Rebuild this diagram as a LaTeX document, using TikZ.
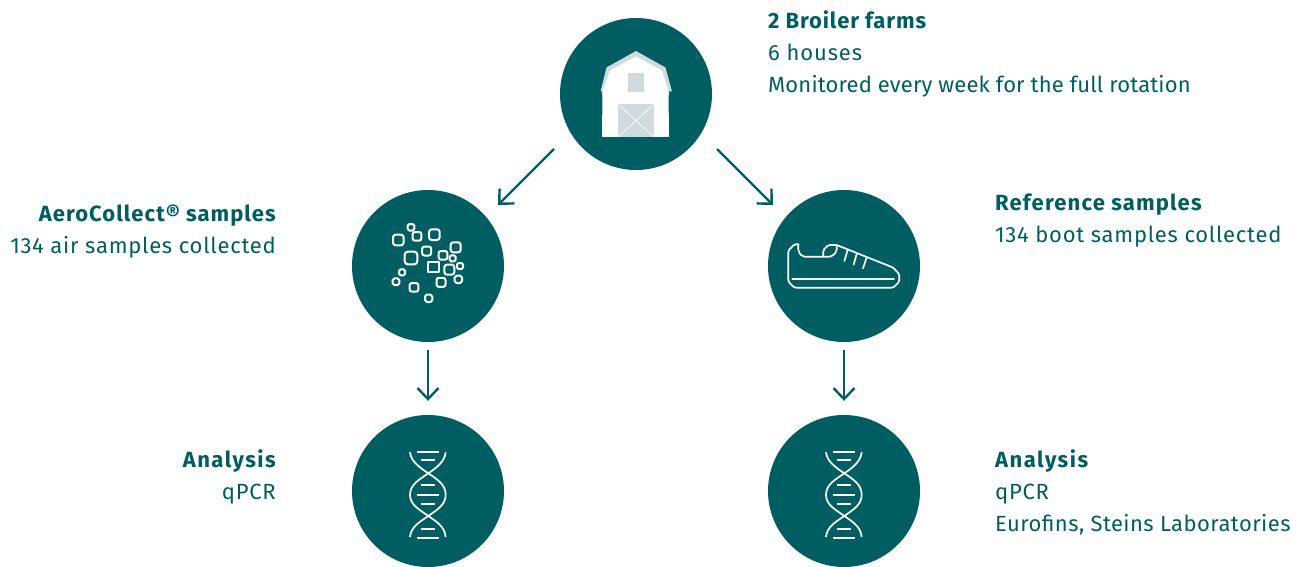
\documentclass[tikz,border=0pt]{standalone}
\usepackage{fontspec}
\setmainfont{Fira Sans}
\usetikzlibrary{arrows.meta}
\definecolor{teal}{HTML}{005E62}
\definecolor{pale}{HTML}{CFDBDC}
\tikzset{
  disc/.style={circle,fill=teal,draw=none,minimum size=152pt,inner sep=0pt},
  conn/.style={draw=teal,line width=2.4pt,-{Straight Barb[length=11pt,width=21pt,line width=2.4pt]}},
  ico/.style={draw=white,line width=1.7pt,line cap=round,line join=round},
  grain/.style={draw=white,line width=2pt,line join=round},
  lbl/.style={text=teal,inner sep=0pt},
  lw/.style={lbl,anchor=base west},
  le/.style={lbl,anchor=base east},
  rg/.style={font=\fontsize{22}{26}\selectfont\addfontfeature{LetterSpace=#1}},
  hd/.style={font=\fontsize{22}{26}\selectfont\bfseries\addfontfeature{LetterSpace=#1}}
}
\newcommand{\pt}[3]{\draw[grain,rounded corners=#3*0.085pt] ({345+#1/3-#3/6},{185+#2/3-#3/6}) rectangle ({345+#1/3+#3/6},{185+#2/3+#3/6});}
\begin{document}
\begin{tikzpicture}[x=1pt,y=-1pt]
\useasboundingbox (0,0) rectangle (1306,567);
\node[disc] (farm) at (636,94) {};
\node[disc] (air) at (428,266) {};
\node[disc] (boot) at (844,266) {};
\node[disc] (qa) at (428,491) {};
\node[disc] (qb) at (844,491) {};
% connectors
\coordinate (f1) at (554,149); \coordinate (a1) at (498,205);
\coordinate (f2) at (717,149); \coordinate (b1) at (773,205);
\draw[conn] (f1) -- (a1);
\draw[conn] (f2) -- (b1);
\draw[conn,shorten <=8pt,shorten >=14pt] (air) -- (qa);
\draw[conn,shorten <=8pt,shorten >=14pt] (boot) -- (qb);
% barn
\fill[pale] (600.5,91.5) -- (606.5,67.5) -- (636,51) -- (665.5,67.5) -- (672,91.5) -- (669,91.5) -- (669,95) -- (602,95) -- (602,91.5) -- cycle;
\fill[white] (602.5,91.5) -- (610,70.5) -- (636,56.5) -- (662,70.5) -- (668.5,91.5) -- (669,137) -- (602,137) -- cycle;
\fill[pale] (628,73) rectangle (644,92);
\fill[pale] (618,104.3) rectangle (654,137);
\draw[white,line width=.6pt] (618,104.3) -- (654,137) (654,104.3) -- (618,137);
% particles
\pt{160}{165}{32}\pt{198}{127}{20}\pt{216}{154}{26}\pt{268}{149}{32}\pt{332}{187}{30}
\pt{245}{198}{27}\pt{294}{211}{26}\pt{323}{220}{18}\pt{198}{219}{38}\pt{313}{254}{30}
\pt{345}{243}{18}\pt{171}{262}{18}\pt{153}{290}{20}\pt{207}{307}{26}\pt{288}{292}{27}
\pt{340}{283}{22}\pt{251}{340}{22}
\draw[grain] (428,261.7) rectangle (438.6,272.3);
% shoe
\begin{scope}[shift={(765,185)},x=0.3333pt,y=-0.3333pt]
\draw[ico,rounded corners=1.5pt] (100,178) -- (88,178) -- (70,197) -- (70,290) -- (88,308) -- (385,308) -- (403,290) -- (403,268) -- (385,248) -- (215,180) -- (190,180) -- (175,195) -- (175,215);
\draw[ico,rounded corners=2pt] (100,178) -- (100,200) -- (112,215) -- (200,215) -- (215,200) -- (215,180);
\draw[ico] (82,282) -- (387,282);
\draw[ico] (248,195) -- (238,228) (275,207) -- (266,239) (305,218) -- (294,250);
\end{scope}
% dna
\foreach \ox in {380,796}{
\begin{scope}[shift={(\ox,345)},x=0.3333pt,y=-0.3333pt]
\draw[ico,line cap=butt] (90,322) .. controls (93,350) and (120,368) .. (145,385) .. controls (175,405) and (197,420) .. (197,450) .. controls (197,480) and (170,495) .. (145,513) .. controls (120,530) and (93,545) .. (90,576);
\draw[ico,line cap=butt] (197,322) .. controls (194,350) and (170,368) .. (145,385) .. controls (115,405) and (90,420) .. (90,450) .. controls (90,480) and (120,495) .. (145,513) .. controls (170,530) and (194,545) .. (197,576);
\draw[ico,line cap=butt] (110,320) -- (177,320) (122,344) -- (165,344) (122,420) -- (165,420) (110,450) -- (177,450) (122,478) -- (165,478) (122,552) -- (165,552) (110,578) -- (177,578);
\end{scope}}
% labels
\node[lw,hd=4] (t1) at (768,29) {2 Broiler farms};
\node[lw,rg=4] (t2) at (768,61) {6 houses};
\node[lw,rg=0.7] (t3) at (768,93) {Monitored every week for the full rotation};
\node[le,hd=4.8] (t4) at (276,221) {AeroCollect® samples};
\node[le,rg=3.4] (t5) at (276,253) {134 air samples collected};
\node[lw,hd=5.3] (t6) at (995,210) {Reference samples};
\node[lw,rg=3.4] (t7) at (995,242) {134 boot samples collected};
\node[le,hd=6.8] (t8) at (276,467) {Analysis};
\node[le,rg=3.4] (t9) at (276,499) {qPCR};
\node[lw,hd=6.8] (t10) at (995,467) {Analysis};
\node[lw,rg=3.4] (t11) at (995,499) {qPCR};
\node[lw,rg=2] (t12) at (995,531) {Eurofins, Steins Laboratories};
\end{tikzpicture}
\end{document}
